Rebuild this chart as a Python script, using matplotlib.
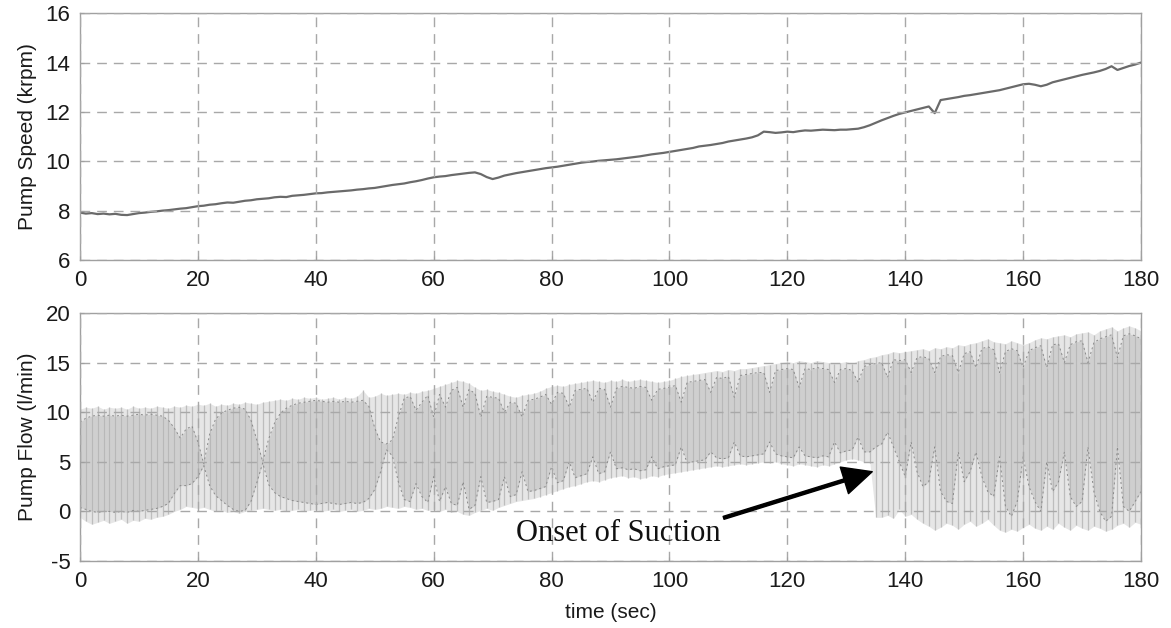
import numpy as np
import matplotlib
matplotlib.use("Agg")
import matplotlib.pyplot as plt

# ---- data (1 s resolution, 0..180 s) ----
time_s = list(range(0, 181))

pump_speed_krpm = [
    7.92, 7.88, 7.90, 7.86, 7.88, 7.85, 7.87, 7.83, 7.82, 7.86,
    7.90, 7.92, 7.95, 7.97, 8.00, 8.02, 8.05, 8.08, 8.10, 8.14,
    8.18, 8.20, 8.24, 8.26, 8.30, 8.33, 8.32, 8.36, 8.40, 8.42,
    8.46, 8.48, 8.50, 8.54, 8.56, 8.55, 8.60, 8.62, 8.64, 8.67,
    8.70, 8.71, 8.74, 8.76, 8.78, 8.80, 8.82, 8.85, 8.87, 8.90,
    8.92, 8.96, 9.00, 9.04, 9.07, 9.10, 9.15, 9.19, 9.24, 9.30,
    9.35, 9.38, 9.40, 9.44, 9.47, 9.50, 9.53, 9.55, 9.48, 9.36,
    9.28, 9.34, 9.42, 9.47, 9.52, 9.56, 9.60, 9.64, 9.68, 9.72,
    9.75, 9.78, 9.82, 9.86, 9.90, 9.94, 9.97, 9.99, 10.02, 10.04,
    10.06, 10.08, 10.11, 10.14, 10.17, 10.20, 10.24, 10.28, 10.31, 10.34,
    10.38, 10.42, 10.46, 10.50, 10.54, 10.60, 10.63, 10.66, 10.70, 10.74,
    10.80, 10.84, 10.88, 10.92, 10.97, 11.05, 11.20, 11.18, 11.15, 11.17,
    11.20, 11.18, 11.22, 11.25, 11.24, 11.26, 11.28, 11.27, 11.26, 11.28,
    11.28, 11.30, 11.32, 11.38, 11.46, 11.56, 11.66, 11.75, 11.84, 11.92,
    11.98, 12.04, 12.10, 12.16, 12.22, 11.95, 12.48, 12.52, 12.56, 12.60,
    12.65, 12.68, 12.72, 12.76, 12.80, 12.84, 12.88, 12.94, 13.00, 13.06,
    13.12, 13.14, 13.10, 13.04, 13.10, 13.20, 13.26, 13.32, 13.38, 13.44,
    13.50, 13.55, 13.60, 13.66, 13.74, 13.85, 13.70, 13.78, 13.86, 13.92,
    14.00,
]

# outer extent of the pulsatile flow strokes (l/min)
flow_max = [
    10.3, 10.5, 10.4, 10.6, 10.3, 10.5, 10.4, 10.5, 10.3, 10.6,
    10.4, 10.5, 10.4, 10.6, 10.5, 10.4, 10.6,
    10.5, 10.7, 10.6, 10.8, 10.7, 10.9, 10.6, 10.8, 10.7, 10.9, 10.8, 11.0, 10.9, 10.8,
    11.0, 11.1, 11.2, 11.3, 11.2, 11.4, 11.3, 11.5, 11.4, 11.5,
    11.3, 11.4, 11.5, 11.3, 11.5, 11.4, 11.6, 12.2, 11.5, 11.6,
    11.9, 11.7, 11.8, 11.9, 11.8, 12.0, 11.9, 12.1, 12.2, 12.4,
    12.6, 12.8, 13.0, 13.2, 13.1, 12.9, 12.5, 12.2, 12.3, 12.1,
    12.0, 11.8, 11.6, 11.5, 11.7, 11.8, 11.9, 12.1, 12.4, 12.6,
    12.7, 12.6, 12.8, 12.9, 13.0, 13.1, 13.2, 13.1, 13.0, 13.2,
    13.1, 13.3, 13.1, 13.2, 13.3, 13.2, 13.1, 13.0, 13.1, 13.2,
    13.4, 13.6, 13.7, 13.8, 13.9, 14.0, 14.1, 14.2, 14.1, 14.3,
    14.2, 14.4, 14.4, 14.5, 14.6, 14.7, 14.8, 14.9, 15.0,
    15.1, 15.0, 15.2, 15.1, 15.0, 15.2, 15.1, 15.0, 14.9, 15.0,
    15.1, 14.9, 15.2, 15.3, 15.5, 15.6,
    15.8, 15.9, 16.1, 16.0, 16.1, 16.2, 16.3, 16.4, 16.2, 16.5,
    16.4, 16.6, 16.5, 16.8, 16.7, 16.9, 17.0, 17.2, 17.4, 17.1,
    17.0, 16.9, 17.2, 17.0, 16.8,
    17.0, 17.3, 17.5, 17.4, 17.6, 17.7, 17.8, 17.6, 17.9, 18.0,
    18.1, 17.8, 18.2, 18.4, 18.6, 18.2, 18.5, 18.7, 18.5, 18.2,
]

flow_min = [
    -0.6, -1.0, -1.3, -1.1, -0.9, -1.2, -1.0, -0.8, -1.2, -0.9,
    -1.0, -0.7, -0.8, -0.6, -0.5, -0.3, 0.0,
    0.2, 0.5, 0.4, 0.3, 0.4, 0.2, 0.0, 0.1, -0.1, 0.0, -0.2, 0.0, 0.1, 0.2,
    0.3, 0.2, 0.1, 0.2, 0.0, 0.1, 0.2, 0.0, 0.1, 0.2,
    0.0, 0.1, 0.2, 0.0, 0.1, 0.2, 0.0, 0.1, 0.3, 0.2,
    0.3, 0.5, 0.4, 0.3, 0.5, 0.4, 0.2, 0.3, 0.1, 0.2,
    0.0, 0.2, -0.1, 0.0, -0.3, -0.4, -0.1, 0.1, 0.3, 0.1,
    0.4, 0.6, 0.8, 1.0, 1.1, 1.2, 1.3, 1.5, 1.7, 1.9,
    2.1, 2.3, 2.5, 2.6, 2.8, 3.0, 3.1, 3.0, 3.2, 3.4,
    3.5, 3.6, 3.4, 3.5, 3.3, 3.4, 3.6, 3.5, 3.7, 3.8,
    3.9, 4.0, 4.1, 4.2, 4.3, 4.4, 4.5, 4.6, 4.5, 4.6,
    4.7, 4.8, 4.7, 4.8, 4.9, 5.0, 4.9, 5.0, 4.8,
    4.7, 4.6, 4.8, 4.7, 4.6, 4.5, 4.7, 4.6, 4.8, 5.0,
    5.2, 5.3, 5.2, 5.0, 4.9, -0.6,
    -0.6, -0.4, -0.7, 0.2, -0.5, -0.3, -0.8, -1.2, -1.5, -1.9,
    -1.6, -1.2, -1.4, -1.8, -1.3, -1.0, -1.5, -1.2, -0.8, -1.4,
    -1.9, -2.1, -1.8, -2.0, -1.6,
    -1.3, -1.7, -1.9, -1.5, -1.8, -1.2, -1.6, -1.9, -1.4, -1.7,
    -1.9, -1.5, -1.7, -2.0, -1.8, -1.4, -1.2, -1.6, -1.1, -1.3,
]

# the two beat traces that bound the densely drawn lobes
trace_upper = [
    9.0, 9.4, 9.6, 9.7, 9.6, 9.7, 9.6, 9.7, 9.6, 9.7,
    9.8, 9.7, 9.8, 9.7, 9.6, 9.2, 8.4, 7.4, 8.3, 8.6,
    7.0, 4.8, 7.8, 9.3, 9.9, 10.2, 10.4, 10.5, 10.3, 9.2,
    7.2, 5.0, 7.3, 8.9, 9.9, 10.4, 10.7, 10.9, 11.0, 11.1,
    11.2, 11.1, 11.0, 11.1, 11.0, 11.1, 11.0, 11.1, 11.2, 10.6,
    8.4, 7.0, 6.8, 7.2, 9.5, 11.4, 11.6, 10.2, 11.0, 11.7,
    9.5, 11.8, 10.5, 12.2, 12.5, 10.5, 12.3, 11.9, 9.5, 11.6,
    11.5, 11.4, 10.0, 11.0, 10.9, 9.5, 11.2, 11.3, 11.5, 11.8,
    10.8, 12.0, 11.9, 10.5, 12.2, 12.3, 12.4, 11.0, 12.4, 12.3,
    10.5, 12.4, 12.6, 12.5, 12.4, 12.6, 12.5, 11.2, 12.3, 12.4,
    12.5, 12.7, 11.0, 13.0, 13.1, 13.2, 13.3, 12.0, 13.5, 13.4,
    13.6, 11.5, 13.7, 13.8, 13.9, 14.0, 14.0, 12.0, 14.2, 14.3,
    14.4, 14.3, 12.5, 14.4, 14.3, 14.5, 14.4, 14.3, 13.0, 14.3,
    14.4, 14.2, 13.0, 14.6, 14.8, 14.9, 15.0, 13.5, 15.3, 15.2,
    15.3, 14.0, 15.5, 15.6, 15.4, 14.0, 15.6, 15.8, 15.7, 14.0,
    15.9, 16.1, 14.5, 16.4, 16.6, 16.3, 14.0, 16.1, 16.4, 16.2,
    14.5, 16.2, 16.5, 16.7, 14.5, 16.8, 16.9, 15.0, 16.8, 17.1,
    17.2, 15.0, 17.0, 17.4, 17.6, 17.8, 15.5, 17.7, 17.9, 17.7,
    17.4,
]

trace_lower = [
    0.4, 0.2, 0.0, -0.1, 0.0, 0.0, -0.1, 0.0, -0.1, 0.1,
    0.0, 0.1, 0.2, 0.3, 0.5, 0.8, 1.8, 2.6, 2.6, 2.8,
    3.5, 4.6, 2.6, 1.6, 1.1, 0.6, 0.2, 0.0, 0.1, 1.0,
    2.9, 4.9, 2.7, 1.9, 1.5, 1.3, 1.1, 1.0, 0.9, 0.8,
    0.7, 0.8, 0.9, 0.8, 0.7, 0.8, 0.9, 0.8, 0.9, 1.3,
    2.2, 4.0, 6.2, 5.6, 3.0, 1.2, 1.0, 2.8, 1.5, 0.9,
    3.5, 1.0, 2.5, 0.8, 0.6, 3.0, 0.2, 0.6, 3.5, 0.9,
    1.0, 1.2, 3.5, 1.5, 1.7, 4.0, 2.0, 2.1, 2.3, 2.5,
    4.5, 2.9, 3.1, 5.0, 3.4, 3.6, 3.8, 5.5, 3.8, 4.0,
    6.0, 4.3, 4.4, 4.2, 4.3, 4.1, 4.2, 5.5, 4.3, 4.5,
    4.6, 4.7, 6.5, 4.9, 5.0, 5.1, 5.2, 6.0, 5.4, 5.3,
    5.4, 7.0, 5.6, 5.5, 5.6, 5.7, 5.8, 7.0, 5.8, 5.6,
    5.5, 5.4, 6.5, 5.6, 5.5, 5.4, 5.6, 5.5, 7.0, 5.9,
    6.1, 6.2, 7.5, 6.0, 6.0, 6.5, 6.8, 8.0, 6.5, 5.0,
    3.5, 7.0, 4.0, 2.5, 3.0, 6.5, 2.0, 1.0, 0.8, 6.0,
    3.0, 4.0, 6.0, 3.5, 2.0, 1.5, 5.5, 0.5, -0.5, 1.0,
    5.5, 2.5, 1.0, 0.0, 5.0, 2.0, 3.0, 6.0, 1.5, 0.5,
    1.0, 6.5, 2.0, 0.0, -1.0, -0.5, 6.5, 0.5, 0.0, 1.0,
    2.0,
]

x_ticks = [0, 20, 40, 60, 80, 100, 120, 140, 160, 180]
speed_ticks = [6, 8, 10, 12, 14, 16]
flow_ticks = [-5, 0, 5, 10, 15, 20]

annotation_text = "Onset of Suction"
annotation_tip = (134.4, 4.0)
annotation_text_pos = (74.0, -2.2)

# ---- styling ----
plt.rcParams["font.family"] = ["Liberation Sans", "DejaVu Sans"]
plt.rcParams["axes.unicode_minus"] = False
GRID_KW = dict(color="#a8a8a8", linestyle=(0, (7, 5)), linewidth=1.0)
FRAME = "#a0a0a0"
TEXT = "#1a1a1a"

fig = plt.figure(figsize=(11.71, 6.28), dpi=100, facecolor="white")
ax1 = fig.add_axes([0.0683, 0.586, 0.9061, 0.393])
ax2 = fig.add_axes([0.0683, 0.1067, 0.9061, 0.3949])


def style_axes(ax, yticks):
    ax.set_xlim(0, 180)
    ax.set_ylim(yticks[0], yticks[-1])
    ax.set_xticks(x_ticks)
    ax.set_yticks(yticks)
    ax.set_axisbelow(False)
    ax.grid(True, **GRID_KW)
    for sp in ax.spines.values():
        sp.set_color(FRAME)
        sp.set_linewidth(1.0)
    ax.tick_params(direction="in", length=3, color=FRAME, labelsize=16,
                   labelcolor=TEXT, pad=7)


# Pump speed
t = np.asarray(time_s, dtype=float)
ax1.plot(t, pump_speed_krpm, color="#6a6a6a", linewidth=1.6, zorder=2)
style_axes(ax1, speed_ticks)
ax1.set_ylabel("Pump Speed (krpm)", fontsize=15, color=TEXT, labelpad=6)

# Pump flow: light envelope, beat strokes, dense lobes, beat traces
fmax = np.asarray(flow_max)
fmin = np.asarray(flow_min)
tu = np.asarray(trace_upper)
tl = np.asarray(trace_lower)
ax2.fill_between(t, fmin, fmax, color="#e6e6e6", linewidth=0, zorder=1)
ax2.vlines(t, fmin, fmax, color="#bdbdbd", linewidth=0.9, zorder=1.2)
ax2.fill_between(t, tl, tu, color="#cfcfcf", linewidth=0, zorder=1.4)
ax2.vlines(t, np.minimum(tl, tu), np.maximum(tl, tu), color="#b8b8b8",
           linewidth=0.8, zorder=1.5)
ax2.plot(t, tu, color="#8a8a8a", linewidth=0.7, linestyle=(0, (2, 3)), zorder=1.8)
ax2.plot(t, tl, color="#8a8a8a", linewidth=0.7, linestyle=(0, (2, 3)), zorder=1.8)
style_axes(ax2, flow_ticks)
ax2.set_ylabel("Pump Flow (l/min)", fontsize=15, color=TEXT, labelpad=6)
ax2.set_xlabel("time (sec)", fontsize=15, color=TEXT, labelpad=8)

ax2.annotate(
    annotation_text,
    xy=annotation_tip, xycoords="data",
    xytext=annotation_text_pos, textcoords="data",
    fontsize=22, family=["Liberation Serif", "DejaVu Serif"],
    ha="left", va="center", color="#111111", zorder=5,
    arrowprops=dict(facecolor="black", edgecolor="black", width=2.2,
                    headwidth=20, headlength=21, shrink=0.0),
)

fig.savefig("out.png", dpi=100, facecolor="white")
